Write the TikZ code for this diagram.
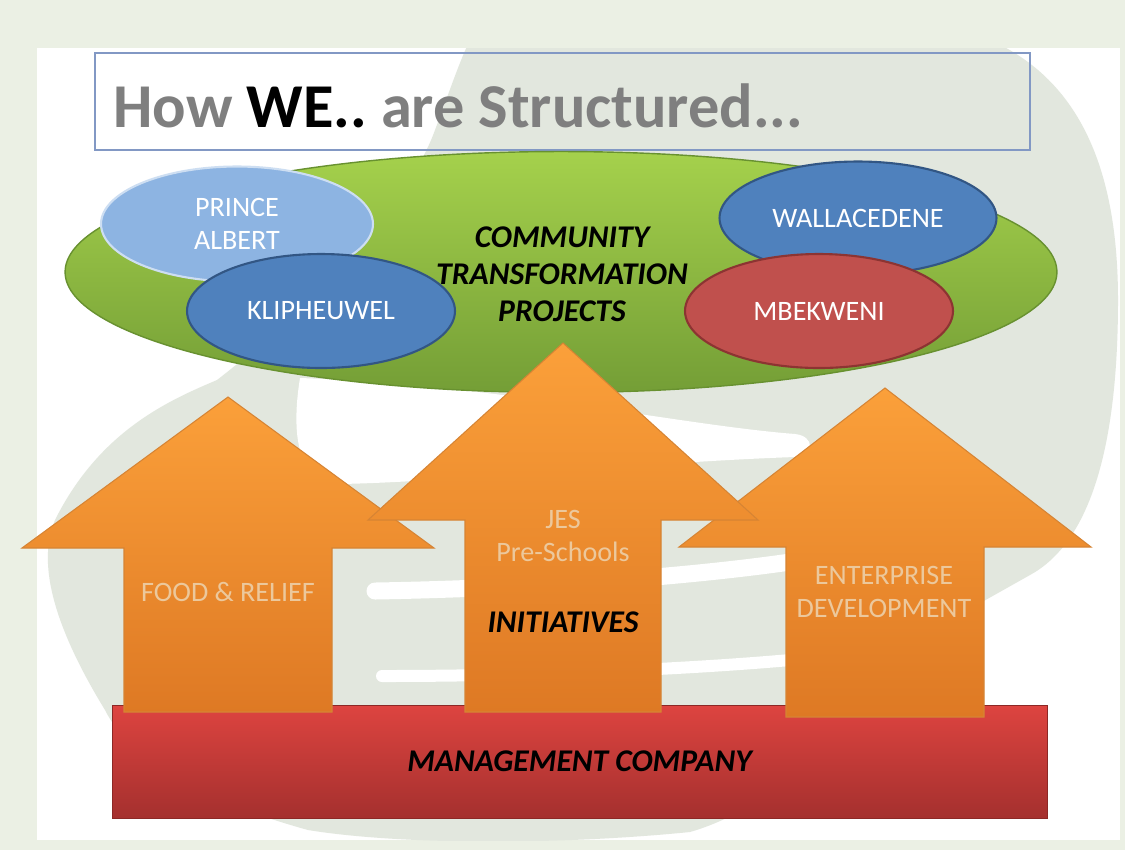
\documentclass[tikz,border=0pt]{standalone}
\usepackage{fontspec}
\setmainfont{Carlito}
\usetikzlibrary{shapes.geometric}

\definecolor{panelbg}{RGB}{235,240,228}
\definecolor{logogray}{RGB}{226,231,222}
\definecolor{titlegray}{RGB}{127,127,127}
\definecolor{boxline}{RGB}{130,152,196}
\definecolor{grntop}{RGB}{165,209,76}
\definecolor{grnbot}{RGB}{116,158,54}
\definecolor{grnline}{RGB}{104,145,48}
\definecolor{bluefill}{RGB}{79,129,189}
\definecolor{blueline}{RGB}{50,86,132}
\definecolor{paleblue}{RGB}{141,180,226}
\definecolor{palebline}{RGB}{205,222,242}
\definecolor{redfill}{RGB}{192,80,77}
\definecolor{redline}{RGB}{140,52,50}
\definecolor{orgtop}{RGB}{251,160,58}
\definecolor{orgbot}{RGB}{222,121,36}
\definecolor{orgline}{RGB}{214,132,52}
\definecolor{orgtext}{RGB}{236,200,156}
\definecolor{mgmttop}{RGB}{221,68,64}
\definecolor{mgmtbot}{RGB}{165,48,46}
\definecolor{mgmtline}{RGB}{140,40,38}

\tikzset{
	town/.style={ellipse, inner sep=0pt, text=white, align=center, line width=1.2pt, font=\fontsize{16}{18.5}\selectfont},
	arrowlbl/.style={text=orgtext, align=center, font=\fontsize{16}{18.5}\selectfont},
	bigital/.style={align=center, font=\fontsize{18}{21}\selectfont\bfseries\itshape},
	uparrow/.style={draw=orgline, line width=0.6pt, top color=orgtop, bottom color=orgbot},
	titletxt/.style={anchor=base west, inner sep=0pt, font=\fontsize{35.5}{40}\selectfont\bfseries\frenchspacing}
}

\begin{document}
\begin{tikzpicture}[x=0.02cm, y=-0.02cm]
	\useasboundingbox (0,0) rectangle (1125,850);
	\fill[panelbg] (0,0) rectangle (1125,850);
	\fill[white] (37,48) rectangle (1120,840);
	\begin{scope}
		\clip (37,48) rectangle (1120,840);
		\fill[logogray] (470,40) -- (990,40) .. controls (1080,80) and (1118,170) .. (1118,300)
			.. controls (1118,460) and (1085,545) .. (1030,575) -- (950,620)
			.. controls (850,700) and (800,800) .. (690,832)
			.. controls (560,845) and (400,845) .. (308,830)
			.. controls (200,800) and (130,760) .. (105,710)
			.. controls (50,620) and (38,560) .. (55,520)
			.. controls (100,430) and (170,400) .. (217,380)
			.. controls (320,300) and (410,200) .. (435,130)
			.. controls (450,90) and (460,60) .. (470,40) -- cycle;
		\fill[white] (300,378) .. controls (500,385) and (680,425) .. (795,434)
			.. controls (815,436) and (815,456) .. (795,457)
			.. controls (650,462) and (450,482) .. (340,484)
			.. controls (300,484) and (290,440) .. (300,378) -- cycle;
		\draw[white, line width=0.34cm, line cap=round] (375,591) .. controls (550,588) and (700,575) .. (790,562);
		\draw[white, line width=0.24cm, line cap=round] (382,676) .. controls (550,676) and (700,668) .. (790,660);
	\end{scope}

	\draw[boxline, line width=0.6pt] (95,53) rectangle (1030,150);
	\node[titletxt] (title) at (113,127) {\textcolor{titlegray}{How} WE.. \textcolor{titlegray}{are Structured...}};

	\node[ellipse, draw=grnline, line width=0.8pt, top color=grntop, bottom color=grnbot, minimum width=19.84cm, minimum height=4.82cm] (ctp) at (561,272) {};
	\node[town, fill=paleblue, draw=palebline, minimum width=5.44cm, minimum height=2.3cm] (prince) at (237,224) {PRINCE\\ALBERT};
	\node[town, fill=bluefill, draw=blueline, minimum width=5.36cm, minimum height=2.28cm] (klip) at (321,311) {KLIPHEUWEL};
	\node[town, fill=bluefill, draw=blueline, minimum width=5.54cm, minimum height=2.26cm] (walla) at (858,218) {WALLACEDENE};
	\node[town, fill=redfill, draw=redline, minimum width=5.36cm, minimum height=2.28cm] (mbek) at (819,311) {MBEKWENI};
	\node[bigital] (ctptext) at (562,274) {COMMUNITY\\TRANSFORMATION\\PROJECTS};

	\node[bigital, draw=mgmtline, top color=mgmttop, bottom color=mgmtbot, minimum width=18.7cm, minimum height=2.26cm] (mgmt) at (579.5,761.5) {MANAGEMENT COMPANY};

	\foreach \cx/\ty/\hy/\hw/\sw/\by in {228/397/548/206/104/712, 885/388/547/206/99/717, 563/343/520/195/98/712}
	{
		\draw[uparrow] (\cx,\ty) -- (\cx+\hw,\hy) -- (\cx+\sw,\hy) -- (\cx+\sw,\by) -- (\cx-\sw,\by) -- (\cx-\sw,\hy) -- (\cx-\hw,\hy) -- cycle;
	}

	\node[arrowlbl] (food) at (228,592) {FOOD \& RELIEF};
	\node[arrowlbl] (jes) at (563,536) {JES\\Pre-Schools};
	\node[bigital] (initiatives) at (563,622) {INITIATIVES};
	\node[arrowlbl] (ent) at (884,592) {ENTERPRISE\\DEVELOPMENT};
\end{tikzpicture}
\end{document}
